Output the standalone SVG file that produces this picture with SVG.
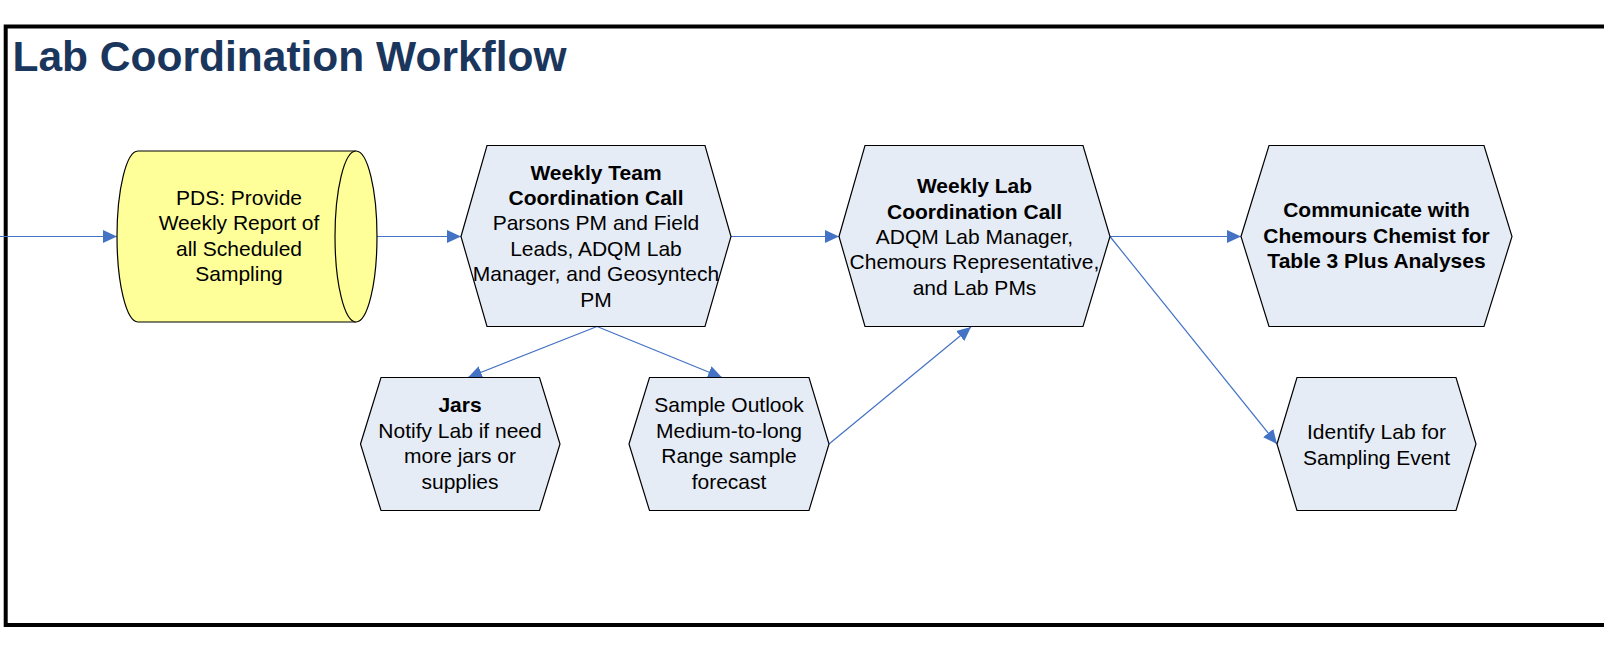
<svg xmlns="http://www.w3.org/2000/svg" width="1604" height="655" viewBox="0 0 1604 655">
  <style>
    .frame { fill: none; stroke: #000; stroke-width: 4; }
    .title { font-family: "Liberation Sans", Arial, sans-serif; font-size: 42.5px; font-weight: bold; fill: #1B365D; }
    .hex { fill: #E6ECF6; stroke: #000; stroke-width: 1.2; }
    .store { fill: #FFFF99; stroke: #000; stroke-width: 1.2; }
    .lbl { font-family: "Liberation Sans", Arial, sans-serif; font-size: 21px; fill: #000; text-anchor: middle; }
    .b { font-weight: bold; }
    .conn { fill: none; stroke: #4472C4; stroke-width: 1.2; marker-end: url(#arrow); }
  </style>
  <defs>
    <marker id="arrow" markerUnits="userSpaceOnUse" markerWidth="14" markerHeight="13" refX="14" refY="6.5" orient="auto">
      <path d="M0,0 L14,6.5 L0,13 Z" fill="#4472C4"/>
    </marker>
  </defs>

  <rect width="1604" height="655" fill="#fff"/>
  <rect class="frame" x="5.7" y="26.5" width="1620" height="598.5"/>
  <text class="title" x="12.5" y="70.5">Lab Coordination Workflow</text>

  <g id="connectors">
    <line class="conn" x1="0" y1="236.5" x2="117" y2="236.5"/>
    <line class="conn" x1="377" y1="236.5" x2="461" y2="236.5"/>
    <line class="conn" x1="731" y1="236.5" x2="839" y2="236.5"/>
    <line class="conn" x1="1110" y1="236.5" x2="1241" y2="236.5"/>
    <line class="conn" x1="1110" y1="236.5" x2="1277" y2="444"/>
    <line class="conn" x1="597" y1="326.5" x2="468" y2="377.5"/>
    <line class="conn" x1="597" y1="326.5" x2="722" y2="377.5"/>
    <line class="conn" x1="829" y1="444" x2="971" y2="327"/>
  </g>

  <g id="pds-report">
    <path class="store" d="M138,151 H356 A21,85.5 0 0 1 356,322 H138 A21,85.5 0 0 1 138,151 Z"/>
    <path class="store" d="M356,151 A21,85.5 0 0 0 356,322"/>
    <text class="lbl" x="239" y="204.5">PDS: Provide</text>
    <text class="lbl" x="239" y="230">Weekly Report of</text>
    <text class="lbl" x="239" y="255.5">all Scheduled</text>
    <text class="lbl" x="239" y="281">Sampling</text>
  </g>

  <g id="team-call">
    <polygon class="hex" points="461,236.5 487,145.5 705,145.5 731,236.5 705,326.5 487,326.5"/>
    <text class="lbl b" x="596" y="179.5">Weekly Team</text>
    <text class="lbl b" x="596" y="204.5">Coordination Call</text>
    <text class="lbl" x="596" y="230">Parsons PM and Field</text>
    <text class="lbl" x="596" y="255.5">Leads, ADQM Lab</text>
    <text class="lbl" x="596" y="281">Manager, and Geosyntech</text>
    <text class="lbl" x="596" y="306.5">PM</text>
  </g>

  <g id="lab-call">
    <polygon class="hex" points="839,236.5 865,145.5 1083,145.5 1110,236.5 1083,326.5 865,326.5"/>
    <text class="lbl b" x="974.5" y="193">Weekly Lab</text>
    <text class="lbl b" x="974.5" y="218.5">Coordination Call</text>
    <text class="lbl" x="974.5" y="243.5">ADQM Lab Manager,</text>
    <text class="lbl" x="974.5" y="269">Chemours Representative,</text>
    <text class="lbl" x="974.5" y="294.5">and Lab PMs</text>
  </g>

  <g id="chemist">
    <polygon class="hex" points="1241,236.5 1269,145.5 1484,145.5 1512,236.5 1484,326.5 1269,326.5"/>
    <text class="lbl b" x="1376.5" y="217">Communicate with</text>
    <text class="lbl b" x="1376.5" y="243">Chemours Chemist for</text>
    <text class="lbl b" x="1376.5" y="268">Table 3 Plus Analyses</text>
  </g>

  <g id="identify-lab">
    <polygon class="hex" points="1277,444 1297,377.5 1456,377.5 1476,444 1456,510.5 1297,510.5"/>
    <text class="lbl" x="1376.5" y="439">Identify Lab for</text>
    <text class="lbl" x="1376.5" y="465">Sampling Event</text>
  </g>

  <g id="jars">
    <polygon class="hex" points="360.5,444 381,377.5 539.5,377.5 560,444 539.5,510.5 381,510.5"/>
    <text class="lbl b" x="460" y="411.5">Jars</text>
    <text class="lbl" x="460" y="437.5">Notify Lab if need</text>
    <text class="lbl" x="460" y="463">more jars or</text>
    <text class="lbl" x="460" y="488.5">supplies</text>
  </g>

  <g id="sample-outlook">
    <polygon class="hex" points="629,444 649.5,377.5 809,377.5 829,444 809,510.5 649.5,510.5"/>
    <text class="lbl" x="729" y="411.5">Sample Outlook</text>
    <text class="lbl" x="729" y="437.5">Medium-to-long</text>
    <text class="lbl" x="729" y="463">Range sample</text>
    <text class="lbl" x="729" y="488.5">forecast</text>
  </g>
</svg>
